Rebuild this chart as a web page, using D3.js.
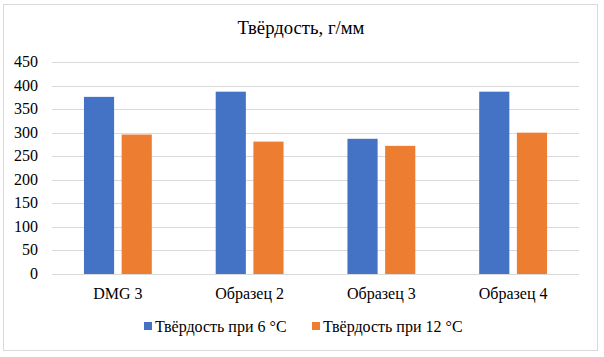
<!DOCTYPE html>
<html><head><meta charset="utf-8">
<script src="https://cdn.jsdelivr.net/npm/d3@7"></script>
<style>body{margin:0;background:#fff}svg{display:block}</style>
</head><body><div id="c"></div>
<script>
const categories = ["DMG 3", "Образец 2", "Образец 3", "Образец 4"];
const seriesNames = ["Твёрдость при 6 °С", "Твёрдость при 12 °С"];
const values6 = [376, 387, 287, 387];
const values12 = [296, 281, 272, 300];
const yTicks = [0, 50, 100, 150, 200, 250, 300, 350, 400, 450];
const colors = ["#4472c4", "#ed7d31"];
const title = "Твёрдость, г/мм";

const W = 604, H = 357;
const m = {left: 52, right: 25, top: 62, bottom: 83};
const svg = d3.select("#c").append("svg").attr("width", W).attr("height", H);
svg.append("rect").attr("x", 3.5).attr("y", 4.5).attr("width", 594).attr("height", 346)
  .attr("fill", "#fff").attr("stroke", "#d9d9d9");

const x0 = d3.scaleBand().domain(categories).range([m.left, W - m.right]).paddingInner(0.485).paddingOuter(0.2425);
const x1 = d3.scaleBand().domain([0, 1]).range([0, x0.bandwidth()]).paddingInner(0.2);
const y = d3.scaleLinear().domain([0, 450]).range([H - m.bottom, m.top]);

const font = "'Liberation Serif','Times New Roman',serif";
svg.append("g").selectAll("line").data(yTicks).join("line")
  .attr("x1", m.left).attr("x2", W - m.right)
  .attr("y1", d => Math.round(y(d)) + 0.5).attr("y2", d => Math.round(y(d)) + 0.5)
  .attr("stroke", "#d9d9d9").attr("stroke-width", 1);

svg.append("g").selectAll("text").data(yTicks).join("text")
  .attr("x", 38).attr("y", d => y(d) + 5).attr("text-anchor", "end")
  .attr("font-family", font).attr("font-size", 16).attr("fill", "#000").text(d => d);

const data = categories.map((c, i) => ({c, v: [values6[i], values12[i]]}));
const g = svg.append("g").selectAll("g").data(data).join("g")
  .attr("transform", d => `translate(${x0(d.c)},0)`);
g.selectAll("rect").data(d => d.v.map((v, k) => ({v, k}))).join("rect")
  .attr("x", d => x1(d.k)).attr("width", x1.bandwidth())
  .attr("y", d => y(d.v)).attr("height", d => y(0) - y(d.v))
  .attr("fill", d => colors[d.k]);

svg.append("g").selectAll("text").data(categories).join("text")
  .attr("x", d => x0(d) + x0.bandwidth() / 2).attr("y", 299).attr("text-anchor", "middle")
  .attr("font-family", font).attr("font-size", 16).attr("fill", "#000").text(d => d);

svg.append("text").attr("x", 301).attr("y", 34).attr("text-anchor", "middle")
  .attr("font-family", font).attr("font-size", 18.7).attr("fill", "#000").text(title);

const legX = [144, 312];
const lg = svg.append("g").selectAll("g").data(seriesNames).join("g")
  .attr("transform", (d, i) => `translate(${legX[i]},0)`);
lg.append("rect").attr("x", 0).attr("y", 322).attr("width", 8).attr("height", 8).attr("fill", (d, i) => colors[i]);
lg.append("text").attr("x", 11).attr("y", 332).attr("font-family", font).attr("font-size", 16).attr("fill", "#000").text(d => d);
</script></body></html>
